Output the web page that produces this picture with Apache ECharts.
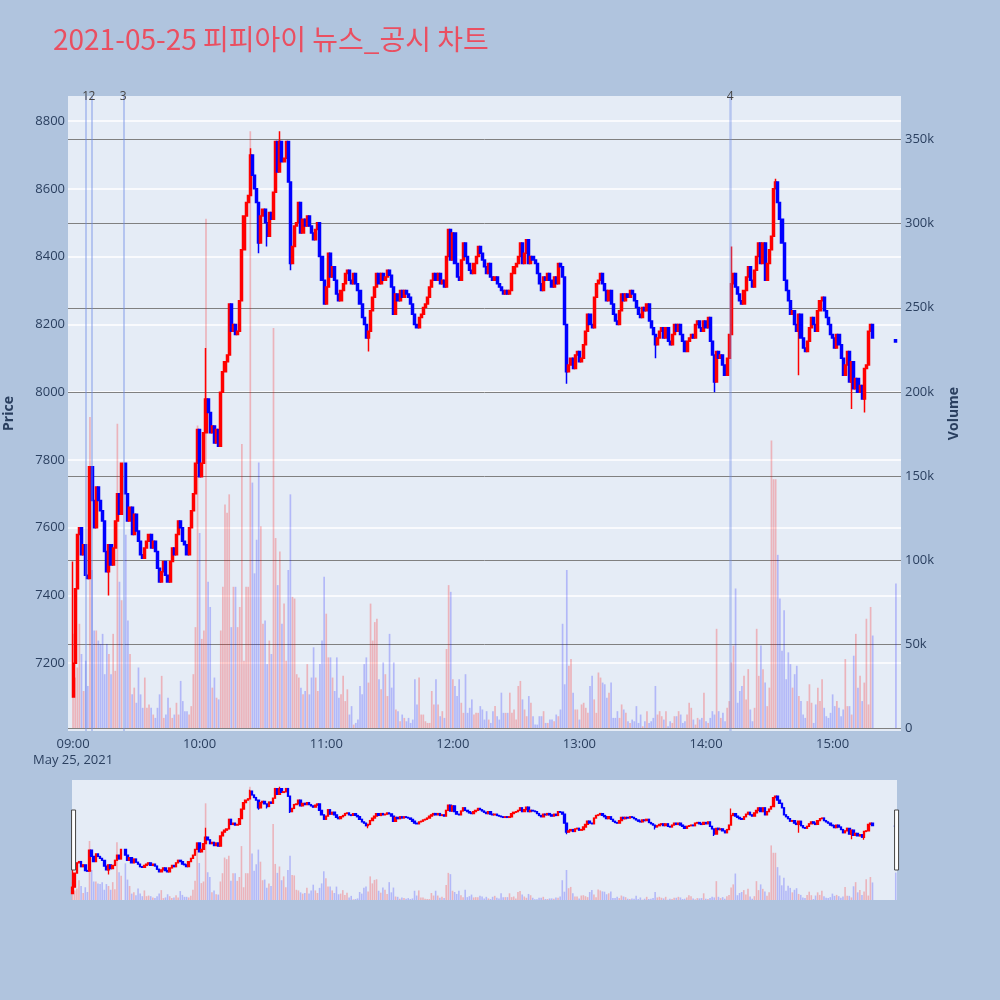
<!DOCTYPE html>
<html><head><meta charset="utf-8">
<script src="https://cdn.jsdelivr.net/npm/echarts@6/dist/echarts.min.js"></script>
<style>html,body{margin:0;padding:0;background:#b0c4de;}#c{width:1000px;height:1000px;}</style>
</head><body><div id="c"></div>
<script>
// ---- data (minute index 0 = 09:00) ----
const titleText = '2021-05-25 피피아이 뉴스_공시 차트';
const dateLabel = 'May 25, 2021';
const openingPrice = 7100;
const closes = [
7200,7420,7580,7600,7520,7550,7460,7450,7780,7680,
7600,7720,7680,7650,7620,7530,7470,7550,7490,7540,
7620,7700,7640,7790,null,7700,7620,7660,7580,7640,
7590,7560,7520,7510,7540,7560,7580,7540,7560,7530,
7480,7440,7470,7500,7460,7440,7500,7540,7520,7580,
7620,7600,7560,7550,7520,7600,7650,7700,7790,7890,
7750,7790,7880,7980,7940,7880,7900,7850,7890,7840,
8000,8060,8090,8110,8260,8180,8200,8170,8180,8270,
8420,8520,8560,8580,8700,8640,8600,8560,8440,8520,
8540,8500,8460,8530,8510,8590,8740,8650,8740,8680,
8690,8740,8620,8380,8430,8490,8500,8560,8470,8510,
8490,8520,8490,8470,8450,8480,8500,8400,8330,8260,
8310,8410,8340,8370,8330,8290,8270,8300,8320,8350,
8360,8330,8320,8350,8320,8300,8260,8220,8200,8160,
8180,8240,8280,8310,8350,8320,8350,8330,8340,8360,
8345,8310,8230,8290,8270,8300,8280,8300,8290,8280,
8260,8230,8200,8190,8220,8230,8250,8260,8280,8310,
8330,8350,8330,8350,8320,8330,8310,8400,8480,8390,
8470,8380,8340,8330,8390,8440,8400,8380,8360,8350,
8380,8400,8430,8410,8390,8370,8350,8380,8340,8330,
8340,8320,8310,8300,8290,8300,8290,8300,8350,8370,
8380,8400,8440,8380,8410,8450,8380,8400,8390,8380,
8350,8320,8300,8340,8330,8350,8330,8310,8340,8320,
8380,8370,8340,8200,8060,8080,8100,8070,8110,8120,
8090,8100,8140,8180,8230,8200,8190,8280,8320,8330,
8350,8320,8300,8270,8300,8260,8230,8210,8200,8240,
8290,8270,8290,8280,8300,8290,8270,8250,8230,8220,
8250,8240,8260,8210,8190,8170,8140,8160,8180,8190,
8160,8190,8150,8140,8170,8200,8180,8200,8170,8150,
8120,8150,8160,8170,8160,8200,8210,8190,8180,8210,
8190,8220,8150,8110,8030,8120,8100,8110,8080,8050,
8100,8170,8320,8350,8310,8290,8270,8260,8300,8340,
8370,8330,8310,8360,8400,8440,8380,8440,8330,8380,
8420,8460,8600,8620,8560,8510,8440,8330,8300,8270,
8230,8240,8200,8180,8230,8160,8130,8120,8150,8190,
8220,8200,8180,8240,8270,8280,8240,8220,8200,8170,
8160,8130,8170,8140,8100,8050,8080,8120,8030,8090,
8010,8040,8000,8020,7980,8070,8080,8180,8200,8160
];
// volume in thousands of shares
const volumes = [
56,30,36,62,44,22,40,25,185,94,
58,58,52,50,56,32,50,44,32,56,
34,181,87,76,null,115,64,44,20,24,
15,36,20,12,30,12,14,12,8,6,
12,20,31,6,8,18,12,6,8,15,
8,28,16,10,10,8,13,32,60,180,
116,53,58,303,87,72,24,30,18,17,
58,84,133,128,139,60,84,84,60,72,
169,40,84,84,355,146,92,112,158,120,
62,64,38,52,44,238,113,85,105,62,
74,40,94,139,78,77,32,30,24,20,
22,38,20,30,48,30,22,38,52,90,
68,42,42,30,22,42,18,20,31,16,
23,8,13,2,3,5,25,20,38,42,
27,74,52,63,65,29,23,39,32,19,
56,24,39,11,10,4,8,6,4,6,
3,5,29,14,30,8,8,4,3,3,
22,14,29,14,7,10,6,47,85,81,
29,25,19,29,15,9,32,9,12,17,
8,9,9,13,11,5,10,5,3,10,
13,7,5,21,9,9,9,21,9,11,
5,25,28,17,11,7,19,15,7,2,
2,7,7,10,3,3,5,5,4,8,
7,11,62,26,94,37,41,21,11,11,
5,14,15,12,9,25,31,17,9,33,
30,27,26,18,21,27,6,6,10,6,
14,11,9,4,3,5,4,13,3,8,
1,4,10,3,4,6,25,8,10,7,
5,10,1,4,3,7,7,10,8,3,
4,8,15,12,5,2,6,5,6,21,
4,3,6,10,8,59,10,6,9,4,
12,16,39,49,83,15,22,25,31,17,
35,11,4,12,59,31,49,35,27,13,
24,171,148,148,103,77,46,70,29,45,
38,24,32,37,19,16,8,6,16,26,
15,3,14,24,16,29,12,7,6,9,
20,13,16,12,7,11,41,13,13,8,
43,56,24,31,16,27,65,14,72,55
];
// wicks that reach beyond the body
const wickMinutes = [0, 17, 63, 84, 88, 92, 98, 103, 140, 234, 276, 304, 312, 333, 344, 369, 375];
const wickHighs   = [7500, null, 8130, 8720, null, null, 8770, null, null, null, null, null, 8430, 8630, null, null, null];
const wickLows    = [null, 7400, null, null, 8410, 8430, null, 8360, 8120, 8025, 8100, 8000, null, null, 8050, 7950, 7940];
// closing auction at 15:30
const auctionMinute = 390, auctionOpen = 8155, auctionClose = 8148, auctionVolume = 86;
// news / disclosure markers
const newsMinutes = [6.0, 8.9, 23.8, 311.4];
const newsLabels = ['1', '2', '3', '4'];
// axis ticks
const hourMinutes = [0, 60, 120, 180, 240, 300, 360];
const hourLabels = ['09:00', '10:00', '11:00', '12:00', '13:00', '14:00', '15:00'];
const priceTicks = [7200, 7400, 7600, 7800, 8000, 8200, 8400, 8600, 8800];
const volumeTicks = [0, 50000, 100000, 150000, 200000, 250000, 300000, 350000];

// ---- build series data ----
const UP = '#ff0000', DOWN = '#0000ff';
const UPV = 'rgba(255,0,0,0.24)', DOWNV = 'rgba(0,0,255,0.22)';
const candleRows = [], volumeRows = [];
let prev = openingPrice;
closes.forEach((c, i) => {
  if (c == null) return;
  const o = prev;
  let hi = Math.max(o, c), lo = Math.min(o, c);
  const k = wickMinutes.indexOf(i);
  if (k >= 0) {
    if (wickHighs[k] != null) hi = Math.max(hi, wickHighs[k]);
    if (wickLows[k] != null) lo = Math.min(lo, wickLows[k]);
  }
  candleRows.push([i, o, c, lo, hi]);
  volumeRows.push({ value: [i, volumes[i] * 1000], itemStyle: { color: c >= o ? UPV : DOWNV } });
  prev = c;
});
candleRows.push([auctionMinute, auctionOpen, auctionClose, auctionClose, auctionOpen]);
volumeRows.push({ value: [auctionMinute, auctionVolume * 1000], itemStyle: { color: DOWNV } });

const FONT = "'Open Sans', 'Noto Sans CJK KR', sans-serif";
const TXT = '#2a3f5f';
const hidden = { show: false };

const chart = echarts.init(document.getElementById('c'), null, { renderer: 'canvas' });
chart.setOption({
  animation: false,
  backgroundColor: '#b0c4de',
  textStyle: { fontFamily: FONT },
  title: {
    text: titleText, left: 48, top: 20,
    textStyle: { color: '#ea4f61', fontSize: 28, fontWeight: 'normal', fontFamily: "'Noto Sans CJK KR', sans-serif" }
  },
  grid: [
    { left: 68, top: 96, width: 833, height: 635, show: true, backgroundColor: '#e5ecf6', borderWidth: 0,
      containLabel: false, outerBoundsMode: 'none' },
    { left: 72, top: 780, width: 825, height: 120, show: true, backgroundColor: '#e5ecf6', borderWidth: 0,
      containLabel: false, outerBoundsMode: 'none' }
  ],
  xAxis: [
    {
      gridIndex: 0, type: 'value', min: -2.4, max: 392.4,
      axisLine: hidden, axisTick: { show: false, customValues: hourMinutes }, splitLine: hidden,
      axisLabel: {
        customValues: hourMinutes, color: TXT, fontSize: 13, margin: 5, lineHeight: 16,
        formatter: v => { const i = hourMinutes.indexOf(v); return hourLabels[i] + (i === 0 ? '\n' + dateLabel : ''); }
      }
    },
    {
      gridIndex: 1, type: 'value', min: -0.3, max: 390.6,
      axisLine: hidden, axisTick: hidden, splitLine: hidden, axisLabel: hidden
    }
  ],
  yAxis: [
    {
      gridIndex: 0, type: 'value', min: 7000, max: 8874, position: 'left',
      name: 'Price', nameLocation: 'middle', nameGap: 52, nameRotate: 90,
      nameTextStyle: { color: TXT, fontSize: 14, fontWeight: 'bold' },
      axisLine: hidden, axisTick: { show: false, customValues: priceTicks },
      axisLabel: { customValues: priceTicks, color: TXT, fontSize: 13, margin: 3, formatter: v => String(v) },
      splitLine: { show: true, lineStyle: { color: '#ffffff', width: 1.5 } }
    },
    {
      gridIndex: 0, type: 'value', min: -1800, max: 376000, position: 'right',
      name: 'Volume', nameLocation: 'middle', nameGap: 46, nameRotate: 90,
      nameTextStyle: { color: TXT, fontSize: 14, fontWeight: 'bold' },
      axisLine: hidden, axisTick: { show: false, customValues: volumeTicks },
      axisLabel: { customValues: volumeTicks, color: TXT, fontSize: 13, margin: 4,
        formatter: v => v === 0 ? '0' : (v / 1000) + 'k' },
      splitLine: { show: true, lineStyle: { color: '#808080', width: 1 } }
    },
    { gridIndex: 1, type: 'value', min: 7000, max: 8874, show: false, splitLine: hidden },
    { gridIndex: 1, type: 'value', min: 0, max: 376000, show: false, splitLine: hidden }
  ],
  dataZoom: [{
    type: 'slider', xAxisIndex: [0, 1], filterMode: 'none', start: 0, end: 100,
    left: 72, right: 103, top: 780, height: 120,
    backgroundColor: 'rgba(0,0,0,0)', borderColor: 'rgba(0,0,0,0)', fillerColor: 'rgba(0,0,0,0)',
    showDetail: false, showDataShadow: false, brushSelect: false, moveHandleSize: 0,
    dataBackground: { lineStyle: { opacity: 0 }, areaStyle: { opacity: 0 } },
    selectedDataBackground: { lineStyle: { opacity: 0 }, areaStyle: { opacity: 0 } },
    handleIcon: 'path://M0,0H4V60H0Z', handleSize: '50%',
    handleStyle: { color: '#ffffff', borderColor: '#444444', borderWidth: 1 },
    emphasis: { handleStyle: { color: '#ffffff', borderColor: '#444444' } }
  }],
  series: [
    {
      type: 'bar', name: 'Volume', xAxisIndex: 0, yAxisIndex: 1, data: volumeRows,
      barWidth: 1.7, z: 1, silent: true
    },
    {
      type: 'candlestick', name: 'Price', xAxisIndex: 0, yAxisIndex: 0, data: candleRows,
      encode: { x: 0, y: [1, 2, 3, 4] }, barWidth: 2.6, z: 3,
      itemStyle: { color: UP, color0: DOWN, borderColor: UP, borderColor0: DOWN, borderWidth: 1.5 },
      markLine: {
        silent: true, symbol: ['none', 'none'], animation: false,
        lineStyle: { color: 'rgba(110,140,230,0.55)', width: 1.5, type: 'solid' },
        label: { show: true, position: 'end', formatter: '{b}', color: '#444', fontSize: 12, distance: -7 },
        data: newsMinutes.map((m, i) => ({ xAxis: m, name: newsLabels[i],
          lineStyle: i === 3 ? { width: 2.5, color: 'rgba(110,140,230,0.4)' } : undefined }))
      }
    },
    {
      type: 'bar', xAxisIndex: 1, yAxisIndex: 3, data: volumeRows, barWidth: 1.6, z: 1, silent: true
    },
    {
      type: 'candlestick', xAxisIndex: 1, yAxisIndex: 2, data: candleRows,
      encode: { x: 0, y: [1, 2, 3, 4] }, barWidth: 2, z: 3, silent: true,
      itemStyle: { color: UP, color0: DOWN, borderColor: UP, borderColor0: DOWN, borderWidth: 1.3 }
    }
  ]
});
</script>
</body></html>
